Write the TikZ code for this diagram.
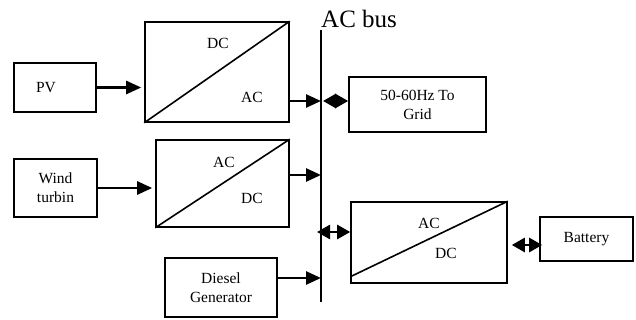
\documentclass[tikz,border=0pt]{standalone}
\usepackage{fontspec}
\setmainfont{Liberation Serif}
\usetikzlibrary{arrows.meta,positioning,calc}

\begin{document}
\begin{tikzpicture}[x=1pt,y=-1pt,
  box/.style={draw,line width=1.6pt,inner sep=0pt,align=center,font=\fontsize{15.5}{19}\selectfont},
  conv/.style={draw,line width=1.6pt,inner sep=0pt},
  lbl/.style={inner sep=0pt,font=\fontsize{15.5}{19}\selectfont},
  arrow/.style={-{Triangle[length=15pt,width=13pt]},line width=2.6pt},
  both/.style={{Triangle[length=13pt,width=14pt]}-{Triangle[length=13pt,width=14pt]},line width=2.6pt}
]
\useasboundingbox (0,0) rectangle (636,320);

% sources
\node[box,minimum width=82pt,minimum height=49pt] (pv) at (55,87.5) {PV\hspace*{18pt}};
\node[box,minimum width=83pt,minimum height=58pt] (wind) at (55.5,188) {Wind\\turbin};
\node[box,minimum width=112pt,minimum height=59pt] (diesel) at (221,287.5) {Diesel\\Generator};

% converters
\node[conv,minimum width=144pt,minimum height=100pt] (cv1) at (217,72) {};
\draw[line width=1.6pt] (cv1.south west) -- (cv1.north east);
\node[lbl] (cv1top) at (218,43) {DC};
\node[lbl] (cv1bot) at (252,97) {AC};

\node[conv,minimum width=133pt,minimum height=87pt] (cv2) at (222.5,183.5) {};
\draw[line width=1.6pt] (cv2.south west) -- (cv2.north east);
\node[lbl] (cv2top) at (224,162) {AC};
\node[lbl] (cv2bot) at (252,198) {DC};

\node[conv,minimum width=156pt,minimum height=81pt] (cv3) at (429,242.5) {};
\draw[line width=1.6pt] ([yshift=7pt]cv3.south west) -- (cv3.north east);
\node[lbl] (cv3top) at (429,223) {AC};
\node[lbl] (cv3bot) at (446,253) {DC};

% loads
\node[box,minimum width=137pt,minimum height=55pt] (grid) at (417.5,104.5) {50-60Hz To\\Grid};
\node[box,minimum width=93pt,minimum height=44pt] (battery) at (586.5,239) {Battery};

% AC bus
\coordinate (bustop) at (321,30);
\coordinate (busbot) at (321,302);
\draw[line width=2pt] (bustop) -- (busbot);
\node[anchor=base west,inner sep=0pt,font=\fontsize{25}{25}\selectfont] (buslbl) at (321,28) {AC bus};

% connections
\draw[arrow,shorten >=3pt] (pv.east) -- (pv.east -| cv1.west);
\draw[arrow,shorten >=3pt] (wind.east) -- (wind.east -| cv2.west);

\coordinate (c1out) at ([yshift=-29pt]cv1.east);
\draw[arrow] (c1out) -- (c1out -| bustop);
\draw[both,shorten <=2pt] (c1out -| bustop) -- (c1out -| grid.west);

\coordinate (c2out) at ([yshift=8.5pt]cv2.east);
\draw[arrow] (c2out) -- (c2out -| bustop);

\coordinate (dgout) at ([yshift=9.5pt]diesel.east);
\draw[arrow] (dgout) -- (dgout -| bustop);

\coordinate (c3in) at ([yshift=10.5pt]cv3.west);
\draw[both,shorten <=-4pt] (c3in -| bustop) -- (c3in);

\coordinate (batin) at ([yshift=-6pt]battery.west);
\draw[both,shorten <=4pt,shorten >=-3pt] (batin -| cv3.east) -- (batin);
\end{tikzpicture}
\end{document}
